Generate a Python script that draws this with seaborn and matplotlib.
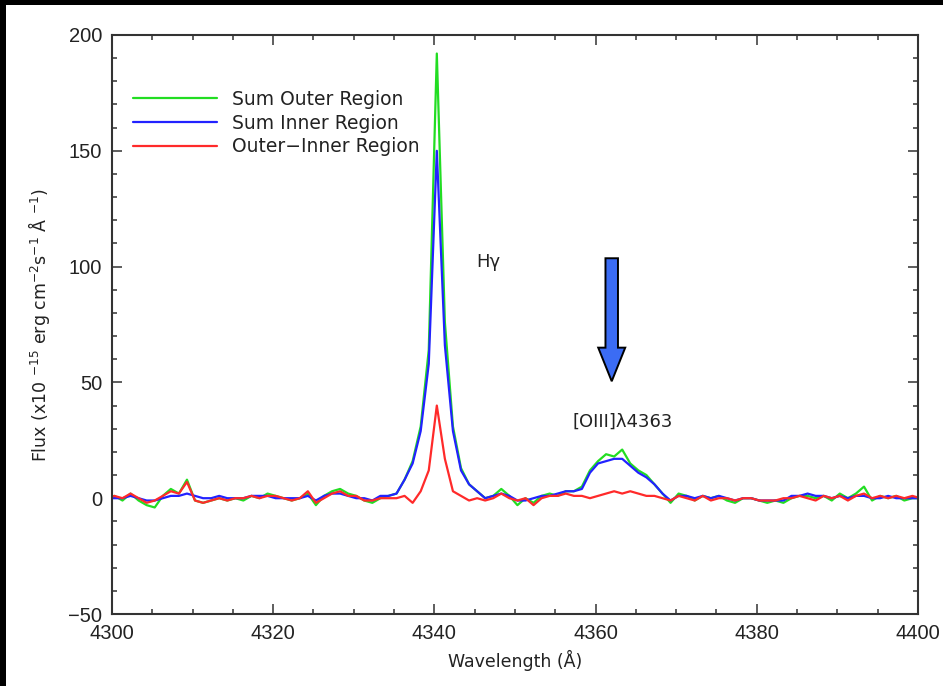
import numpy as np
import pandas as pd
import matplotlib
matplotlib.use("Agg")
import matplotlib.pyplot as plt
from matplotlib.patches import FancyArrow, Rectangle
from matplotlib.ticker import MultipleLocator
import seaborn as sns

# Wavelength samples (Angstrom), 1 A spacing
wavelength = np.arange(4299.3, 4400.4, 1.0)

sum_outer = [
    0, 1, -1, 2, -1, -3, -4, 1, 4, 2,
    8, -1, -2, -1, 0, -1, 0, -1, 1, 0,
    2, 1, 0, -1, 0, 2, -3, 1, 3, 4,
    2, 1, -1, -2, 0, 1, 2, 8, 16, 31,
    64, 192, 76, 31, 13, 6, 3, 0, 1, 4,
    1, -3, 0, -2, 1, 2, 1, 3, 3, 5,
    12, 16, 19, 18, 21, 15, 12, 10, 6, 2,
    -2, 2, 1, -1, 1, 0, 1, -1, -2, 0,
    0, -1, -2, -1, -2, 0, 1, 1, 0, 1,
    -1, 2, 0, 2, 5, -1, 1, 0, 1, -1,
    0, 0,
]

sum_inner = [
    0, 0, 0, 1, 0, -1, -1, 0, 1, 1,
    2, 1, 0, 0, 1, 0, 0, 0, 1, 1,
    1, 0, 0, 0, 0, 1, -1, 1, 2, 2,
    1, 0, 0, -1, 1, 1, 2, 8, 15, 29,
    58, 150, 66, 29, 12, 6, 3, 0, 1, 2,
    1, -1, -1, 0, 1, 1, 2, 3, 3, 4,
    11, 15, 16, 17, 17, 14, 11, 9, 6, 2,
    -1, 1, 1, 0, 1, 0, 1, 0, -1, 0,
    0, -1, -1, -1, -1, 1, 1, 2, 1, 1,
    0, 1, 0, 1, 1, 0, 0, 1, 0, 0,
    0, 0,
]

outer_minus_inner = [
    0, 1, 0, 2, 0, -2, -1, 1, 3, 2,
    7, -1, -2, -1, 0, -1, 0, 0, 1, 0,
    1, 1, 0, -1, 0, 3, -2, 0, 2, 3,
    1, 1, -1, -1, 0, 0, 0, 1, -2, 3,
    12, 40, 17, 3, 1, -1, 0, -1, 0, 2,
    0, -1, 0, -3, 0, 1, 1, 2, 1, 1,
    0, 1, 2, 3, 2, 3, 2, 1, 1, 0,
    -1, 1, 0, -1, 1, -1, 0, 0, -1, 0,
    0, -1, -1, -1, 0, 0, 1, 0, -1, 1,
    0, 1, -1, 1, 2, 0, 1, 0, 1, 0,
    1, 0,
]

series_names = ["Sum Outer Region", "Sum Inner Region", "Outer\u2212Inner Region"]
series_colors = ["#22dd22", "#2222ff", "#ff2a2a"]

df = pd.DataFrame({
    "wavelength": np.tile(wavelength, 3),
    "flux": np.concatenate([sum_outer, sum_inner, outer_minus_inner]),
    "series": np.repeat(series_names, len(wavelength)),
})

sns.set_style("ticks")
plt.rcParams["font.family"] = ["DejaVu Sans"]
plt.rcParams["mathtext.fontset"] = "dejavusans"

fig = plt.figure(figsize=(9.43, 6.86), dpi=100)
ax = fig.add_axes([112 / 943, 1 - 614 / 686, 806 / 943, 579 / 686])

sns.lineplot(data=df, x="wavelength", y="flux", hue="series",
             hue_order=series_names, palette=series_colors,
             linewidth=1.6, sort=False, estimator=None, ax=ax, legend=False)

ax.set_xlim(4300, 4400)
ax.set_ylim(-50, 200)
ax.xaxis.set_major_locator(MultipleLocator(20))
ax.xaxis.set_minor_locator(MultipleLocator(5))
ax.yaxis.set_major_locator(MultipleLocator(50))
ax.yaxis.set_minor_locator(MultipleLocator(10))
ax.tick_params(which="both", direction="in", top=True, right=True,
               color="#333333", width=1.1)
ax.tick_params(which="major", length=7, labelsize=14.5, pad=7)
ax.tick_params(which="minor", length=3.5)
for lab in ax.get_xticklabels() + ax.get_yticklabels():
    lab.set_family("Liberation Sans")
    lab.set_color("#222222")
for s in ax.spines.values():
    s.set_color("#333333")
    s.set_linewidth(1.5)

ax.set_xlabel("Wavelength (\u00c5)", fontsize=12.5, color="#222222", labelpad=5)
ax.set_ylabel(r"Flux (x10 $^{-15}$ erg cm$^{-2}$s$^{-1}$ $\mathrm{\AA}$ $^{-1}$)",
              fontsize=12.5, color="#222222", labelpad=12)

handles = [plt.Line2D([], [], color=c, linewidth=1.6) for c in series_colors]
ax.legend(handles, series_names, loc="upper left", frameon=False,
          bbox_to_anchor=(21 / 806, 0.905), borderpad=0, borderaxespad=0,
          handlelength=4.5, handletextpad=0.8, labelspacing=0.25,
          fontsize=13.5, labelcolor="#222222")

ax.text(4346.7, 102, "H\u03b3", fontsize=13, ha="center", va="center", color="#222222")
ax.text(4363.4, 33, "[OIII]\u03bb4363", fontsize=13, ha="center", va="center", color="#222222")
ax.add_patch(FancyArrow(4362.0, 103.6, 0, -53.1, width=1.55, head_width=3.35,
                        head_length=14.5, length_includes_head=True,
                        facecolor="#3b6cf4", edgecolor="black", linewidth=1.4, zorder=5))

# dark frame strips at the top and left edges
fig.patches.append(Rectangle((0, 1 - 5 / 686), 1, 5 / 686, transform=fig.transFigure,
                             facecolor="black", edgecolor="none"))
fig.patches.append(Rectangle((0, 0), 6 / 943, 1, transform=fig.transFigure,
                             facecolor="black", edgecolor="none"))

fig.savefig("out.png", dpi=100)
